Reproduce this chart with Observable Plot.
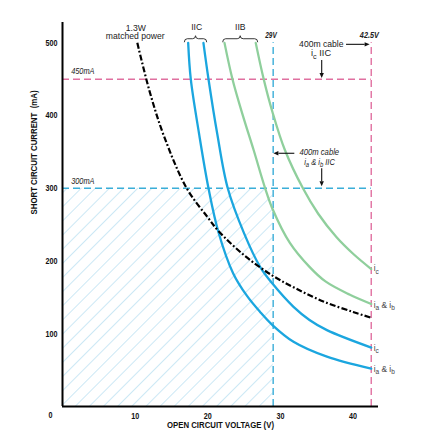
<!DOCTYPE html>
<html>
<head>
<meta charset="utf-8">
<script src="https://cdn.jsdelivr.net/npm/d3@7"></script>
<script src="https://cdn.jsdelivr.net/npm/@observablehq/plot@0.6"></script>
<style>
  body { margin: 0; background: #fff; }
</style>
</head>
<body>
<div id="chart"></div>
<script>
// ---------- data ----------
const xTicks = [10, 20, 30, 40];
const yTicks = [100, 200, 300, 400, 500];

// IIC curves (blue)
const iicAbV = [17.3, 17.66, 18.8, 20.1, 21.46, 23.5, 25.4, 27.2, 28.9, 31.8, 36.4, 42.5];
const iicAbI = [500, 450, 375, 300, 240, 183, 152, 130, 112, 89, 68.5, 52];
const iicCV  = [19.4, 20.1, 21.3, 22.75, 25.0, 27.2, 28.9, 31.8, 34.0, 36.4, 42.5];
const iicCI  = [500, 450, 375, 300, 238, 192, 169, 137, 119, 105, 81];
// IIB curves (green)
const iibAbV = [22.3, 23.4, 24.8, 26.3, 27.9, 28.9, 31.3, 34.0, 36.2, 39.5, 42.5];
const iibAbI = [500, 450, 401, 353, 300, 272, 225, 192, 172, 154, 141];
const iibCV  = [26.6, 27.7, 28.9, 30.6, 33.1, 35.2, 37.7, 40.0, 42.5];
const iibCI  = [500, 450, 405, 353, 300, 265, 233, 210, 189];
// 1.3 W matched power (black dash-dot)
const powerV = [10.3, 12, 14, 17.1, 20, 21.5, 25, 28.9, 32, 36, 40, 42.5];
const powerI = [500, 433, 371, 300, 260, 241, 208, 180, 163, 144, 130, 122];

// limit lines
const limitV = [29, 42.5];
const limitVColor = ["#3aaed8", "#e070a0"];
const limitI = [300, 450];
const limitIColor = ["#3aaed8", "#e070a0"];
const limitTop = 500;

// annotations
const plainNotes = [
  {t: "1.3W", v: 10.09, i: 520.7},
  {t: "matched power", v: 10.01, i: 508.7},
  {t: "IIC", v: 18.47, i: 521.5},
  {t: "IIB", v: 24.48, i: 521.5},
  {t: "400m cable", v: 35.63, i: 497.6}
];
const boldItalicNotes = [
  {t: "29V", v: 28.7, i: 510.1, w: 11.5},
  {t: "42.5V", v: 42.24, i: 510.1, w: 19}
];
const italicNotes = [
  {t: "450mA", v: 2.79, i: 460.6, w: 23.3},
  {t: "300mA", v: 2.79, i: 310.3, w: 23.3},
  {t: "400m cable", v: 35.35, i: 349.3, w: 39.7}
];
const subNotes = [
  {t: "i_c IIC", v: 35.66, i: 484.8, italic: false, anchor: "middle", w: 20},
  {t: "i_a & i_b IIC", v: 35.45, i: 335.8, italic: true, anchor: "middle", w: 31.6}
];
const endLabels = [
  {t: "i_c", i: 189},
  {t: "i_a & i_b", i: 139},
  {t: "i_c", i: 80},
  {t: "i_a & i_b", i: 51}
];
const braces = [
  {v1: 16.84, v2: 19.92, i: 505},
  {v1: 22.12, v2: 26.94, i: 505}
];
const arrows = [
  {v1: 39.1, i1: 497.3, v2: 42.35, i2: 497.3},
  {v1: 35.75, i1: 475.7, v2: 35.75, i2: 451},
  {v1: 31.98, i1: 347.5, v2: 29.1, i2: 347.5},
  {v1: 35.75, i1: 326.8, v2: 35.75, i2: 302}
];
const xLabel = "OPEN CIRCUIT VOLTAGE (V)";
const yLabel = "SHORT CIRCUIT CURRENT  (mA)";
const xLabelWidth = 107, yLabelWidth = 124, tickCharWidth = 4;

// ---------- build ----------
const SANS = "'Liberation Sans', Arial, Helvetica, sans-serif";
const BLUE = "#1ba6df", GREEN = "#8fcf9c";

const toRows = (V, I) => V.map((v, k) => ({v, i: I[k]}));
const curves = [
  {rows: toRows(iicAbV, iicAbI), stroke: BLUE},
  {rows: toRows(iicCV, iicCI), stroke: BLUE},
  {rows: toRows(iibAbV, iibAbI), stroke: GREEN},
  {rows: toRows(iibCV, iibCI), stroke: GREEN}
];
const vRules = limitV.map((v, k) => ({v, c: limitVColor[k]}));
const hRules = limitI.map((i, k) => ({i, c: limitIColor[k]}));

const svg = Plot.plot({
  width: 422,
  height: 444,
  marginLeft: 62,
  marginRight: 44,
  marginTop: 22,
  marginBottom: 38,
  style: {fontFamily: SANS, background: "#fff", overflow: "visible"},
  x: {domain: [0, 43.5]},
  y: {domain: [0, 528]},
  marks: [
    Plot.rect([{x2: limitV[0], y2: limitI[0]}], {x1: 0, x2: "x2", y1: 0, y2: "y2", fill: "url(#hatch)"}),
    Plot.ruleY(hRules, {y: "i", x1: 0, x2: limitV[1], stroke: "c", strokeWidth: 1.4, strokeDasharray: "7,4"}),
    Plot.ruleX(vRules, {x: "v", y1: 0, y2: limitTop, stroke: "c", strokeWidth: 1.4, strokeDasharray: "7,4"}),
    ...curves.map(c => Plot.line(c.rows, {x: "v", y: "i", stroke: c.stroke, strokeWidth: 2.3, curve: "catmull-rom"})),
    Plot.line(toRows(powerV, powerI), {x: "v", y: "i", stroke: "#000", strokeWidth: 2.2, strokeLinecap: "butt", strokeDasharray: "6,2.2,1.8,2.2", curve: "catmull-rom"}),
    Plot.ruleX([0], {stroke: "#000", strokeWidth: 2}),
    Plot.ruleY([0], {stroke: "#000", strokeWidth: 2}),
    Plot.axisX(xTicks, {tickSize: 0, tickPadding: 6, fontSize: 8.6, fontWeight: "bold", fill: "#111", label: null}),
    Plot.axisY(yTicks, {tickSize: 0, tickPadding: 5, fontSize: 8.6, fontWeight: "bold", fill: "#111", label: null}),
    Plot.text(["0"], {x: 0, y: 0, dx: -12, dy: 9, fontSize: 8.6, fontWeight: "bold", fill: "#111"}),
    Plot.text([xLabel], {frameAnchor: "bottom", dy: 21, fontSize: 8.4, fontWeight: "bold", fill: "#111"}),
    Plot.text([yLabel], {frameAnchor: "left", dx: -28, rotate: -90, fontSize: 8.4, fontWeight: "bold", fill: "#111"}),
    Plot.text(plainNotes, {x: "v", y: "i", text: "t", fontSize: 8.6, fill: "#222"}),
    Plot.text(boldItalicNotes, {x: "v", y: "i", text: "t", fontSize: 8.6, fill: "#222", fontWeight: "bold", fontStyle: "italic"}),
    Plot.text(italicNotes, {x: "v", y: "i", text: "t", fontSize: 8.4, fill: "#222", fontStyle: "italic"})
  ]
});

document.getElementById("chart").appendChild(svg);

const sx = svg.scale("x"), sy = svg.scale("y");
const X = v => sx.apply(v), Y = i => sy.apply(i);
const root = d3.select(svg);

// hatch pattern
const defs = root.insert("defs", ":first-child");
defs.append("pattern")
  .attr("id", "hatch")
  .attr("patternUnits", "userSpaceOnUse")
  .attr("width", 10).attr("height", 10)
  .attr("patternTransform", "rotate(45)")
  .append("line")
  .attr("x1", 0).attr("y1", 0).attr("x2", 0).attr("y2", 10)
  .attr("stroke", "#a9d9ef").attr("stroke-width", 1.2);

// condensed look: squeeze texts to the widths measured on the reference
function squeeze(el, w) {
  el.setAttribute("textLength", w);
  el.setAttribute("lengthAdjust", "spacingAndGlyphs");
}
root.selectAll("text").each(function () {
  const s = this.textContent;
  const axis = this.closest('[aria-label$="tick label"]');
  if (axis) { squeeze(this, s.length * tickCharWidth); return; }
  if (s === "0") { squeeze(this, tickCharWidth); return; }
  if (s === xLabel) { squeeze(this, xLabelWidth); return; }
  if (s === yLabel) { squeeze(this, yLabelWidth); return; }
  const italic = this.closest('[font-style="italic"]');
  if (italic) {
    const n = [...boldItalicNotes, ...italicNotes].find(d => d.t === s);
    if (n) squeeze(this, n.w);
  }
});

const layer = root.append("g");

// text with subscripts ("_x" marks a subscript character)
function richText(x, y, str, {size = 8.6, anchor = "start", italic = false, fill = "#222", w = null} = {}) {
  const t = layer.append("text")
    .attr("x", x).attr("y", y + size * 0.35)
    .attr("text-anchor", anchor)
    .attr("font-size", size)
    .attr("font-family", SANS)
    .attr("font-style", italic ? "italic" : "normal")
    .attr("fill", fill);
  const parts = [];
  let re = /_(.)/g, last = 0, m;
  while ((m = re.exec(str))) {
    if (m.index > last) parts.push([str.slice(last, m.index), false]);
    parts.push([m[1], true]);
    last = m.index + 2;
  }
  if (last < str.length) parts.push([str.slice(last), false]);
  let inSub = false;
  for (const [s, sub] of parts) {
    const ts = t.append("tspan").text(s);
    if (sub) ts.attr("font-size", size * 0.78);
    if (sub && !inSub) ts.attr("dy", size * 0.3);
    if (!sub && inSub) ts.attr("dy", -size * 0.3);
    inSub = sub;
  }
  if (w) {
    const bw = t.node().getBBox().width;
    if (bw > 0) {
      const k = w / bw;
      t.attr("transform", `translate(${x},0) scale(${k},1) translate(${-x},0)`);
    }
  }
}

for (const n of subNotes) {
  richText(X(n.v), Y(n.i), n.t, {anchor: n.anchor, italic: n.italic, size: n.italic ? 8.4 : 8.4, w: n.w});
}
for (const n of endLabels) {
  richText(X(limitV[1]) + 3, Y(n.i), n.t, {size: 8.3, fill: "#444"});
}

// braces
for (const b of braces) {
  const x1 = X(b.v1), x2 = X(b.v2), y = Y(b.i), m = (x1 + x2) / 2;
  const d = `M${x1},${y + 3.5} Q${x1},${y} ${x1 + 3},${y} L${m - 3},${y} Q${m},${y} ${m},${y - 3} Q${m},${y} ${m + 3},${y} L${x2 - 3},${y} Q${x2},${y} ${x2},${y + 3.5}`;
  layer.append("path").attr("d", d).attr("fill", "none").attr("stroke", "#222").attr("stroke-width", 0.9);
}

// arrows with filled heads
for (const a of arrows) {
  const x1 = X(a.v1), y1 = Y(a.i1), x2 = X(a.v2), y2 = Y(a.i2);
  const ang = Math.atan2(y2 - y1, x2 - x1), L = 5, W = 2.2;
  const bx = x2 - L * Math.cos(ang), by = y2 - L * Math.sin(ang);
  layer.append("line").attr("x1", x1).attr("y1", y1).attr("x2", bx).attr("y2", by)
    .attr("stroke", "#111").attr("stroke-width", 1.1);
  const px = -Math.sin(ang) * W, py = Math.cos(ang) * W;
  layer.append("path")
    .attr("d", `M${x2},${y2} L${bx + px},${by + py} L${bx - px},${by - py} Z`)
    .attr("fill", "#111");
}
</script>
</body>
</html>
